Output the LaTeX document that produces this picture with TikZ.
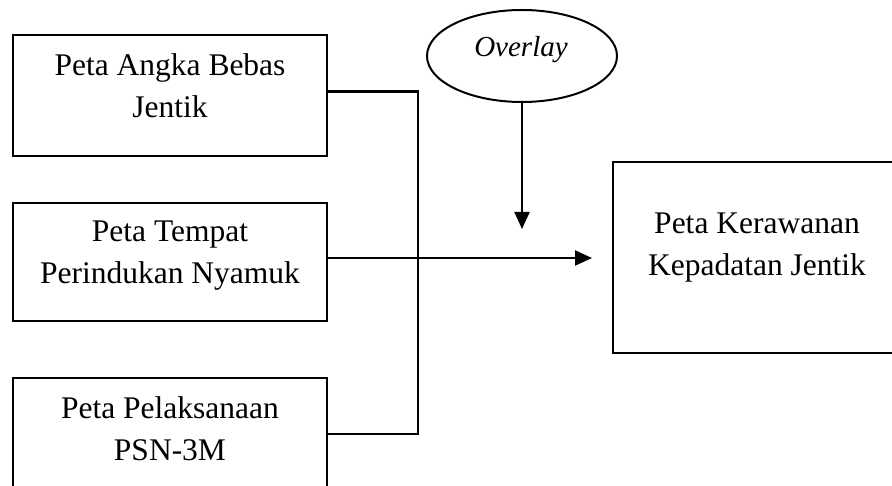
\documentclass[tikz,border=0pt]{standalone}
\usepackage{fontspec}
\setmainfont{Liberation Serif}
\usetikzlibrary{arrows.meta, positioning, shapes.geometric, calc}

\begin{document}
\begin{tikzpicture}[x=1pt, y=-1pt,
        caja/.style={draw, line width=2pt, minimum width=314pt, inner sep=0pt},
        texto/.style={align=center, inner sep=0pt, font=\fontsize{31.5}{42}\selectfont},
        linea/.style={line width=2.1pt},
        flecha/.style={line width=2.1pt, -{Triangle[length=17pt, width=15pt]}}]
        \useasboundingbox (0,0) rectangle (892,486);

        % Cajas de entrada
        \node[caja, minimum height=121pt] (angka) at (170,95.5) {};
        \node[caja, minimum height=118pt] (tempat) at (170,262) {};
        \node[caja, minimum height=120pt] (psn) at (170,438) {};
        % Caja de salida
        \node[caja, minimum width=288pt, minimum height=191pt] (rawan) at (757,257.5) {};
        % Elipse
        \node[draw, ellipse, line width=2pt, minimum width=190pt, minimum height=92pt, inner sep=0pt] (overlay) at (522,56) {};

        % Textos
        \node[texto, below=19pt of angka.north] (tangka) {Peta Angka Bebas\\Jentik};
        \node[texto, below=19pt of tempat.north] (ttempat) {Peta Tempat\\Perindukan Nyamuk};
        \node[texto, below=19pt of psn.north] (tpsn) {Peta Pelaksanaan\\PSN-3M};
        \node[texto, below=52pt of rawan.north] (trawan) {Peta Kerawanan\\Kepadatan Jentik};
        \node[inner sep=0pt, anchor=base, font=\fontsize{29}{35}\selectfont\itshape] (toverlay) at (521,57) {Overlay};

        % Conexiones
        \coordinate (bus) at (418,250);
        \draw[linea] ([yshift=4pt]angka.east) -| (bus) |- ([yshift=4pt]psn.east);
        \draw[flecha] ([yshift=4pt]tempat.east) -- ($(tempat.east -| rawan.west)+(-20,-4)$);
        \draw[flecha] (overlay.south) -- ++(0,126);
    \end{tikzpicture}
\end{document}
